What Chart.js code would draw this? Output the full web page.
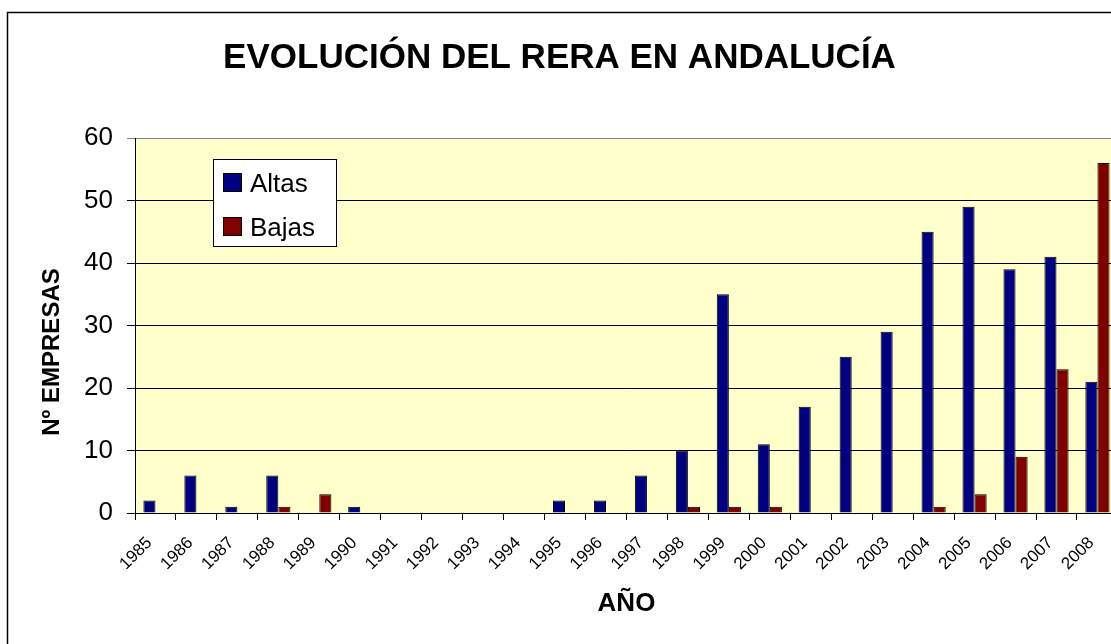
<!DOCTYPE html>
<html>
<head>
<meta charset="utf-8">
<script src="https://cdn.jsdelivr.net/npm/chart.js@4"></script>
<style>
  html, body { margin: 0; padding: 0; background: #fff; overflow: hidden; }
  canvas { display: block; }
</style>
</head>
<body>
<canvas id="rera-chart" width="1125" height="644"></canvas>
<script>
const years = ["1985", "1986", "1987", "1988", "1989", "1990", "1991", "1992", "1993", "1994", "1995", "1996",
    "1997", "1998", "1999", "2000", "2001", "2002", "2003", "2004", "2005", "2006", "2007", "2008"];
const altas = [2, 6, 1, 6, 0, 1, 0, 0, 0, 0, 2, 2, 6, 10, 35, 11, 17, 25, 29, 45, 49, 39, 41, 21];
const bajas = [0, 0, 0, 1, 3, 0, 0, 0, 0, 0, 0, 0, 0, 1, 1, 1, 0, 0, 0, 1, 3, 9, 23, 56];
const yTicks = [0, 10, 20, 30, 40, 50, 60];

const chartTitle = "EVOLUCIÓN DEL RERA EN ANDALUCÍA";
const yTitle = "Nº EMPRESAS";
const xTitle = "AÑO";

const fontFamily = '"Liberation Sans", Arial, sans-serif';

// plot background, outer frame, y title and legend box
const excelLook = {
    id: 'excelLook',
    beforeDraw(chart) {
        const { ctx, chartArea } = chart;
        ctx.save();
        ctx.fillStyle = '#FFFFCC';
        ctx.fillRect(chartArea.left, chartArea.top, chartArea.right - chartArea.left, chartArea.bottom - chartArea.top);
        ctx.restore();
    },
    afterDraw(chart) {
        const ctx = chart.ctx;
        ctx.save();
        // outer frame
        ctx.strokeStyle = '#000';
        ctx.lineWidth = 1.5;
        ctx.strokeRect(7.5, 12.5, 3000, 3000);

        // y axis title
        ctx.translate(52, 352);
        ctx.rotate(-Math.PI / 2);
        ctx.fillStyle = '#000';
        ctx.font = 'bold 24px ' + fontFamily;
        ctx.textAlign = 'center';
        ctx.textBaseline = 'middle';
        ctx.fillText(yTitle, 0, 0);
        ctx.restore();

        // legend
        ctx.save();
        ctx.fillStyle = '#fff';
        ctx.fillRect(213.5, 159.5, 123, 87);
        ctx.strokeStyle = '#000';
        ctx.lineWidth = 1;
        ctx.strokeRect(213.5, 159.5, 123, 87);
        ctx.font = '26px ' + fontFamily;
        ctx.textAlign = 'left';
        ctx.textBaseline = 'alphabetic';
        chart.data.datasets.forEach((ds, i) => {
            const y = 173.5 + i * 44;
            ctx.fillStyle = ds.backgroundColor;
            ctx.fillRect(223.5, y, 18, 18);
            ctx.strokeRect(223.5, y, 18, 18);
            ctx.fillStyle = '#000';
            ctx.fillText(ds.label, 250, y + 18.5);
        });
        ctx.restore();
    }
};

const reraChart = new Chart(document.getElementById('rera-chart'), {
    type: 'bar',
    data: {
        labels: years,
        datasets: [{
            label: 'Altas',
            data: altas,
            backgroundColor: '#000080',
            borderColor: '#000',
            borderWidth: 1,
            borderSkipped: 'start'
        }, {
            label: 'Bajas',
            data: bajas,
            backgroundColor: '#800000',
            borderColor: '#000',
            borderWidth: 1,
            borderSkipped: 'start'
        }]
    },
    options: {
        responsive: false,
        animation: false,
        layout: {
            padding: { left: 0, right: 6, top: 0, bottom: 0 }
        },
        datasets: {
            bar: {
                categoryPercentage: 0.59,
                barPercentage: 1
            }
        },
        scales: {
            x: {
                offset: true,
                grid: {
                    offset: true,
                    drawOnChartArea: false,
                    drawTicks: true,
                    tickLength: 7,
                    color: '#000'
                },
                border: { color: '#000', width: 1 },
                ticks: {
                    color: '#000',
                    font: { family: fontFamily, size: 17 },
                    minRotation: 45,
                    maxRotation: 45,
                    autoSkip: false,
                    padding: 13,
                    labelOffset: -6
                },
                title: {
                    display: true,
                    text: xTitle,
                    color: '#000',
                    font: { family: fontFamily, size: 26, weight: 'bold' },
                    padding: { top: 0, bottom: 25 }
                },
                afterFit(scale) {
                    scale.height = 644 - 513;
                }
            },
            y: {
                min: 0,
                max: 60,
                afterBuildTicks(scale) {
                    scale.ticks = yTicks.map(v => ({ value: v }));
                },
                grid: {
                    color: ctx => ctx.tick && ctx.tick.value === 60 ? '#808080' : '#000',
                    tickLength: 8
                },
                border: { color: '#000', width: 1 },
                ticks: {
                    color: '#000',
                    font: { family: fontFamily, size: 26 },
                    padding: 14
                },
                afterFit(scale) {
                    scale.width = 135;
                }
            }
        },
        plugins: {
            legend: { display: false },
            tooltip: { enabled: false },
            title: {
                display: true,
                text: chartTitle,
                color: '#000',
                font: { family: fontFamily, size: 35, weight: 'bold' },
                padding: { top: 37, bottom: 59 }
            }
        }
    },
    plugins: [excelLook]
});
</script>
</body>
</html>
